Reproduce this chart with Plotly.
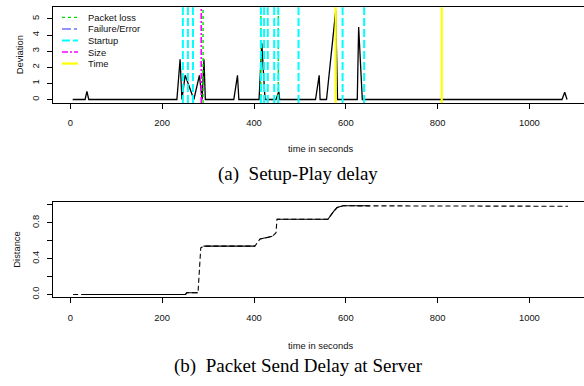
import plotly.graph_objects as go

W, H = 584, 386

# ---------------- data: top panel (Setup-Play delay) ----------------
dev_time = [5, 32, 36, 40, 232, 239, 243, 250, 269, 281, 287, 291, 294,
            356, 364, 367, 411, 417, 424, 448, 454, 456, 534, 542, 544,
            558, 578, 582, 625, 628, 636, 1071, 1077, 1082]
dev_value = [0, 0, 0.5, 0, 0, 2.5, 0, 1.5, 0, 1.5, 0, 2.5, 0,
             0, 1.5, 0, 0, 3.5, 0, 0, 0.5, 0, 0, 1.5, 0,
             0, 5.5, 0, 0, 4.5, 0, 0, 0.45, 0]

packet_loss_events = [289, 415, 453]
failure_events = []
startup_events = [245, 256, 267, 415, 422, 430, 444, 453, 497, 593, 640]
size_events = [285]
time_events = [578, 809]

legend_labels = ["Packet loss", "Failure/Error", "Startup", "Size", "Time"]

# ---------------- data: bottom panel (Packet Send Delay) ----------------
dist_time = [6, 25, 251, 253, 278, 284, 290, 402, 408, 413, 425, 440, 446,
             448, 450, 561, 574, 581, 594, 652, 1084]
dist_value = [0.0, 0.0, 0.0, 0.02, 0.02, 0.52, 0.54, 0.54, 0.58, 0.62, 0.63,
              0.65, 0.68, 0.69, 0.84, 0.84, 0.93, 0.97, 0.99, 0.99, 0.985]
dense_spans = [(25, 278), (290, 402), (413, 440), (450, 652)]

x_ticks = [0, 200, 400, 600, 800, 1000]
top_y_ticks = [0, 1, 2, 3, 4, 5]
bot_y_ticks = [0.0, 0.2, 0.4, 0.6, 0.8, 1.0]
bot_y_labels = ["0.0", "", "0.4", "", "0.8", ""]

# ---------------- styling ----------------
SANS = "Liberation Sans, Arial, Helvetica, sans-serif"
SERIF = "Liberation Serif, Times New Roman, serif"
ev_styles = {
    "Packet loss": dict(color="#00DD00", width=1.4, dash="dot"),
    "Failure/Error": dict(color="#7070FF", width=1.4, dash="dashdot"),
    "Startup": dict(color="#00FFFF", width=2, dash="8px,3px"),
    "Size": dict(color="#FF00FF", width=1.6, dash="6px,2px,2px,2px"),
    "Time": dict(color="#FFFF00", width=2.2, dash="solid"),
}
ev_lists = {
    "Packet loss": packet_loss_events,
    "Failure/Error": failure_events,
    "Startup": startup_events,
    "Size": size_events,
    "Time": time_events,
}


def px2x(px):
    return px / W


def px2y(py):
    return 1 - py / H


X_RANGE = [(53 - 70.4) / 0.459, (584 - 70.4) / 0.459]
TOP_DOMAIN = [px2y(103.6), px2y(7.3)]
BOT_DOMAIN = [px2y(299), px2y(203)]

fig = go.Figure()

fig.add_trace(go.Scatter(x=dev_time, y=dev_value, mode="lines",
                         line=dict(color="black", width=1.3),
                         xaxis="x", yaxis="y", showlegend=False,
                         hoverinfo="skip"))

shapes = []
for name in legend_labels:
    for t in ev_lists[name]:
        shapes.append(dict(type="line", xref="x", yref="y domain",
                           x0=t, x1=t, y0=0, y1=1, layer="above",
                           line=ev_styles[name]))

fig.add_trace(go.Scatter(x=dist_time, y=dist_value, mode="lines",
                         line=dict(color="black", width=1.1, dash="5px,3px"),
                         xaxis="x2", yaxis="y2", showlegend=False,
                         hoverinfo="skip"))
sx, sy = [], []
for a, b in dense_spans:
    for t, v in zip(dist_time, dist_value):
        if a <= t <= b:
            sx.append(t)
            sy.append(v)
    sx.append(None)
    sy.append(None)
fig.add_trace(go.Scatter(x=sx, y=sy, mode="lines",
                         line=dict(color="black", width=1.1),
                         xaxis="x2", yaxis="y2", showlegend=False,
                         hoverinfo="skip", connectgaps=False))

annotations = []
for i, name in enumerate(legend_labels):
    yy = 17.5 + 11.6 * i
    shapes.append(dict(type="line", xref="paper", yref="paper",
                       x0=px2x(62), x1=px2x(78), y0=px2y(yy), y1=px2y(yy),
                       line=ev_styles[name]))
    annotations.append(dict(text=name, xref="paper", yref="paper",
                            x=px2x(86), y=px2y(yy), xanchor="left",
                            yanchor="middle", showarrow=False,
                            font=dict(family=SANS, size=9.4, color="#111")))

annotations += [
    dict(text="time in seconds", x=px2x(320), y=px2y(149)),
    dict(text="time in seconds", x=px2x(320), y=px2y(347)),
    dict(text="Deviation", x=px2x(19), y=px2y(55.5), textangle=-90),
    dict(text="Distance", x=px2x(17), y=px2y(251), textangle=-90),
]
for a in annotations[-4:]:
    a.update(xref="paper", yref="paper", showarrow=False,
             xanchor="center", yanchor="middle",
             font=dict(family=SANS, size=9.4, color="#111"))

annotations += [
    dict(text="(a)  Setup-Play delay", x=px2x(298), y=px2y(175)),
    dict(text="(b)  Packet Send Delay at Server", x=px2x(298.5), y=px2y(367.5)),
]
for a in annotations[-2:]:
    a.update(xref="paper", yref="paper", showarrow=False,
             xanchor="center", yanchor="middle",
             font=dict(family=SERIF, size=19, color="black"))

axis_common = dict(showgrid=False, zeroline=False, showline=True,
                   linecolor="black", linewidth=1, ticks="outside",
                   ticklen=5, tickcolor="black", tickwidth=1,
                   tickfont=dict(family=SANS, size=9.4, color="#111"))

fig.update_layout(
    width=W, height=H,
    margin=dict(l=0, r=0, t=0, b=0),
    paper_bgcolor="white", plot_bgcolor="white",
    showlegend=False,
    xaxis=dict(domain=[px2x(53), 1], range=X_RANGE, anchor="y",
               tickvals=x_ticks, mirror=True, ticklabelstandoff=6,
               **axis_common),
    yaxis=dict(domain=TOP_DOMAIN, range=[-0.22, 5.72], anchor="x",
               tickvals=top_y_ticks, tickangle=-90, ticklabelstandoff=4,
               **axis_common),
    xaxis2=dict(domain=[px2x(53), 1], range=X_RANGE, anchor="y2",
                tickvals=x_ticks, mirror=True, ticklabelstandoff=6,
                **axis_common),
    yaxis2=dict(domain=BOT_DOMAIN, range=[-0.033, 1.033], anchor="x2",
                tickvals=bot_y_ticks, ticktext=bot_y_labels, tickangle=-90,
                ticklabelstandoff=4, **axis_common),
    shapes=shapes,
    annotations=annotations,
)

fig.write_html(
    "out.html",
    config={"displayModeBar": False, "staticPlot": True},
    post_script="document.body.style.margin='0';document.body.style.padding='0';document.body.style.overflow='hidden';",
)
